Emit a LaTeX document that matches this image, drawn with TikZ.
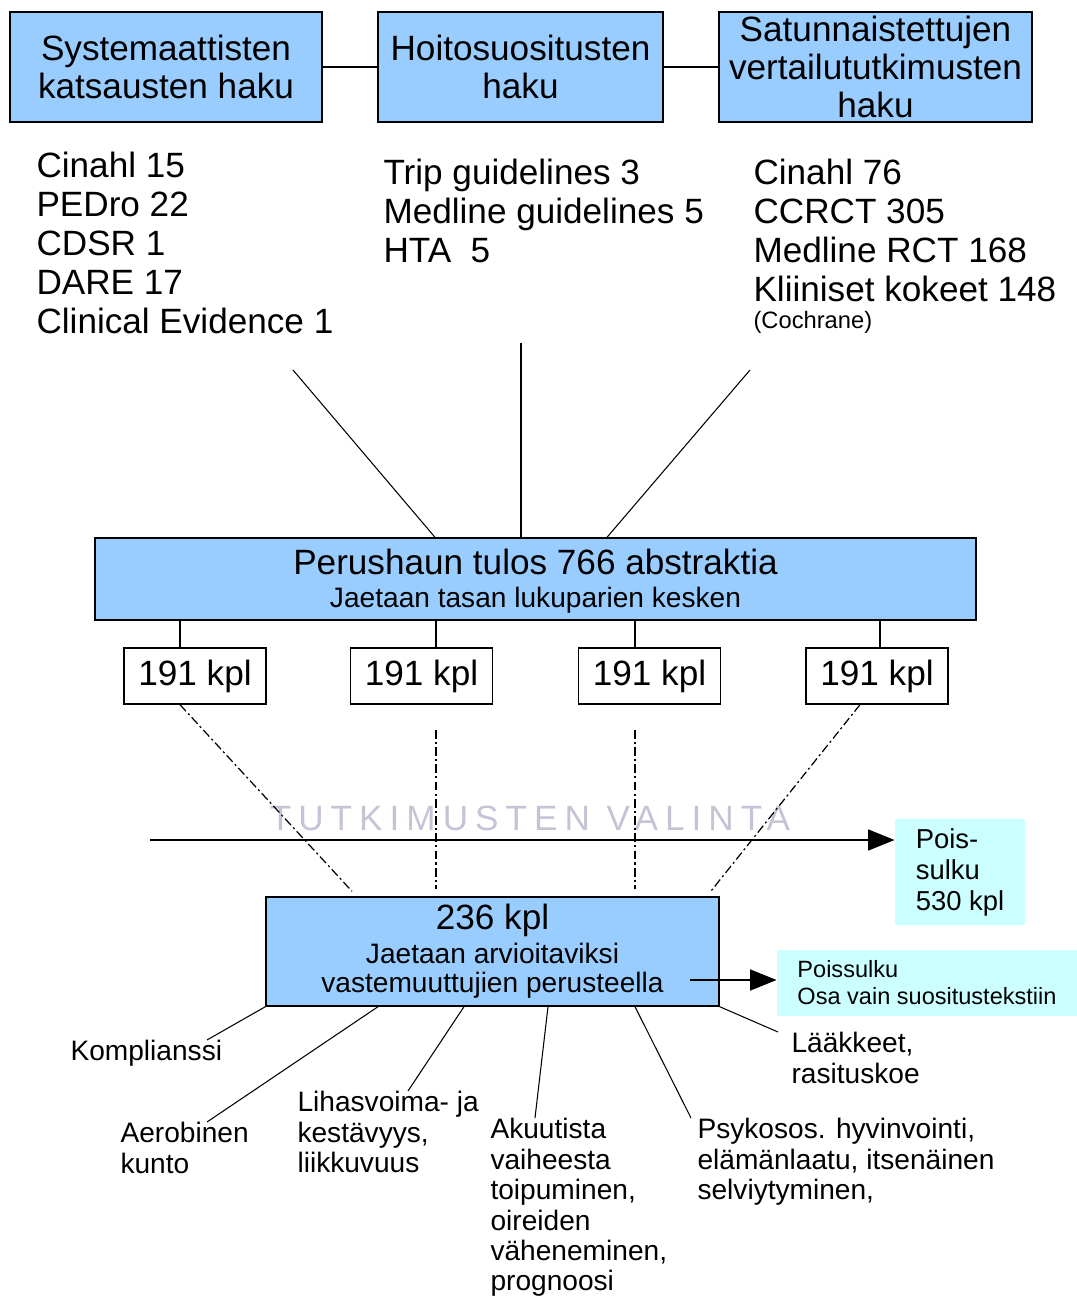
\documentclass[tikz,border=0pt]{standalone}
\usepackage{fontspec}
\setmainfont{Liberation Sans}
\usetikzlibrary{arrows.meta}

\definecolor{hakublue}{RGB}{153,204,255}
\definecolor{poiscyan}{RGB}{204,255,255}
\definecolor{leima}{RGB}{196,196,214}

\tikzset{
  haku/.style={draw, line width=0.8pt, fill=hakublue, inner sep=0pt, align=center},
  kpl/.style={draw, line width=0.8pt, fill=white, inner sep=0pt, minimum width=2.84cm, minimum height=1.12cm, font=\fontsize{20}{22}\selectfont},
  pois/.style={fill=poiscyan, inner sep=0pt, align=left},
  lista/.style={inner sep=0pt, anchor=north west, align=left, font=\fontsize{20}{22.1}\selectfont},
  muuttuja/.style={inner sep=0pt, anchor=north west, align=left, font=\fontsize{16}{17.3}\selectfont},
  jako/.style={line width=0.7pt, dash pattern=on 5pt off 1.8pt on 1.2pt off 1.8pt},
  nuoli/.style={-{Triangle[length=15pt,width=12pt]}}
}

\begin{document}
\begin{tikzpicture}[x=0.02cm, y=-0.02cm, line width=0.6pt]
      \useasboundingbox (0,0) rectangle (1077,1297);
      \node[haku, minimum width=6.24cm, minimum height=2.2cm, font=\fontsize{20}{22}\selectfont] (sys) at (166,67) {Systemaattisten\\katsausten haku};
      \node[haku, minimum width=5.7cm, minimum height=2.2cm, font=\fontsize{20}{22}\selectfont] (hoi) at (520.5,67) {Hoitosuositusten\\haku};
      \node[haku, minimum width=6.26cm, minimum height=2.2cm, font=\fontsize{20}{21.5}\selectfont] (rct) at (875.5,67) {Satunnaistettujen\\vertailututkimusten\\haku};
      \draw (sys) -- (hoi);
      \draw (hoi) -- (rct);
      \node[lista] (sysl) at (36,152) {Cinahl 15\\PEDro 22\\CDSR 1\\DARE 17\\Clinical Evidence 1};
      \node[lista] (hoil) at (383,159) {Trip guidelines 3\\Medline guidelines 5\\HTA\ \ 5};
      \node[lista] (rctl) at (753,159) {Cinahl 76\\CCRCT 305\\Medline RCT 168\\Kliiniset kokeet 148};
      \node[inner sep=0pt, anchor=west, font=\fontsize{13.5}{15}\selectfont] (coch) at (753,322) {(Cochrane)};
      \coordinate (sysv) at (293,370);
      \coordinate (hoiv) at (521,343);
      \coordinate (rctv) at (750,370);
      \node[haku, minimum width=17.62cm, minimum height=1.64cm, font=\fontsize{20}{17}\selectfont] (perus) at (535.5,579) {\rule{0pt}{17pt}Perushaun tulos 766 abstraktia\\[2pt]{\fontsize{16}{17}\selectfont Jaetaan tasan lukuparien kesken}};
      \draw (sysv) -- (perus.north -| 435,0);
      \draw (hoiv) -- (perus.north -| 521,0);
      \draw (rctv) -- (perus.north -| 607,0);
      \node[kpl] (k1) at (195,676) {191 kpl};
      \node[kpl] (k2) at (421.5,676) {191 kpl};
      \node[kpl] (k3) at (649.5,676) {191 kpl};
      \node[kpl] (k4) at (877,676) {191 kpl};
      \draw (perus.south -| 180,0) -- (k1.north -| 180,0);
      \draw (perus.south -| 436,0) -- (k2.north -| 436,0);
      \draw (perus.south -| 635,0) -- (k3.north -| 635,0);
      \draw (perus.south -| 880,0) -- (k4.north -| 880,0);
      \node[font=\fontsize{20}{22}\selectfont\addfontfeatures{LetterSpace=20}, text=leima, inner sep=0pt] (leima) at (530,818) {TUTKIMUSTEN VALINTA};
      \node[haku, minimum width=9.06cm, minimum height=2.18cm, font=\fontsize{16}{16.4}\selectfont] (res) at (492.5,951.5) {{\fontsize{20}{20}\selectfont 236 kpl}\\[3pt]Jaetaan arvioitaviksi\\vastemuuttujien perusteella};
      \coordinate (v2) at (436,730);
      \coordinate (v3) at (635,730);
      \draw[jako] (k1.south -| 180,0) -- ([yshift=0.1cm]res.north -| 352,0);
      \draw[jako] (v2) -- ([yshift=0.14cm]res.north -| v2);
      \draw[jako] (v3) -- ([yshift=0.14cm]res.north -| v3);
      \draw[jako] (k4.south -| 860,0) -- ([yshift=0.08cm]res.north -| 710,0);
      \node[pois, minimum width=2.6cm, minimum height=2.12cm, font=\fontsize{15.6}{17.6}\selectfont] (pois) at (960,872) {Pois-\\sulku\\530 kpl\hspace{0.2cm}};
      \coordinate (valinta) at (150,840);
      \draw[nuoli] (valinta) -- (valinta -| pois.west);
      \node[pois, minimum width=6cm, minimum height=1.32cm, font=\fontsize{13.4}{15.3}\selectfont] (pois2) at (927,983) {Poissulku\\Osa vain suositustekstiin};
      \coordinate (osa) at (690,980);
      \draw[nuoli] (osa) -- (osa -| pois2.west);
      \node[muuttuja] (komp) at (70,1040) {Komplianssi};
      \node[muuttuja] (aero) at (120,1122) {Aerobinen\\kunto};
      \node[muuttuja] (lihas) at (297,1091) {Lihasvoima- ja\\kestävyys,\\liikkuvuus};
      \node[muuttuja] (akuut) at (490,1118) {Akuutista\\vaiheesta\\toipuminen,\\oireiden\\väheneminen,\\prognoosi};
      \node[muuttuja] (psyk) at (697,1118) {Psykosos. hyvinvointi,\\elämänlaatu, itsenäinen\\selviytyminen,};
      \node[muuttuja] (laak) at (791,1032) {Lääkkeet,\\rasituskoe};
      \draw (res.south west) -- ([xshift=2.74cm]komp.north west);
      \draw (res.south -| 378,0) -- ([xshift=1.74cm]aero.north west);
      \draw (res.south -| 464,0) -- ([xshift=2.22cm]lihas.north west);
      \draw (res.south -| 548,0) -- ([xshift=0.9cm]akuut.north west);
      \draw (res.south -| 635,0) -- ([xshift=-0.12cm]psyk.north west);
      \draw (res.south east) -- ([xshift=-0.26cm]laak.north west);
    \end{tikzpicture}
\end{document}
